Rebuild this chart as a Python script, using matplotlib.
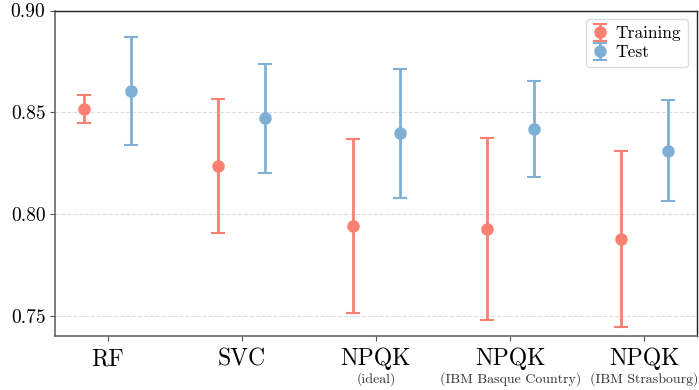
import numpy as np
import matplotlib
matplotlib.use("Agg")
import matplotlib.pyplot as plt
from matplotlib import transforms

plt.rcParams['font.family'] = 'serif'
plt.rcParams['font.serif'] = ['cmr10']
plt.rcParams['mathtext.fontset'] = 'cm'
plt.rcParams['axes.formatter.use_mathtext'] = True

models = ["RF", "SVC", "NPQK", "NPQK", "NPQK"]
subtitles = ["", "", "(ideal)", "(IBM Basque Country)", "(IBM Strasbourg)"]

train_mean = [0.8515, 0.8235, 0.7942, 0.7926, 0.7878]
train_err = [0.0068, 0.0330, 0.0428, 0.0447, 0.0434]
test_mean = [0.8603, 0.8470, 0.8397, 0.8418, 0.8312]
test_err = [0.0265, 0.0268, 0.0318, 0.0238, 0.0250]

train_color = '#FA8072'
test_color = '#7EB0D5'

x = np.arange(len(models))
offset = 0.175

fig, ax = plt.subplots(figsize=(6.99, 3.9), dpi=100)

ax.errorbar(x - offset, train_mean, yerr=train_err, fmt='o', color=train_color,
            ecolor=train_color, elinewidth=2, capsize=5, capthick=1.5,
            markersize=8, label='Training', zorder=3)
ax.errorbar(x + offset, test_mean, yerr=test_err, fmt='o', color=test_color,
            ecolor=test_color, elinewidth=2, capsize=5, capthick=1.5,
            markersize=8, label='Test', zorder=3)

ax.set_ylim(0.74, 0.90)
ax.set_yticks([0.75, 0.80, 0.85, 0.90])
ax.set_yticklabels(['0.75', '0.80', '0.85', '0.90'], fontsize=14)
ax.set_xticks(x)
ax.set_xticklabels(models, fontsize=17)
ax.tick_params(axis='x', pad=5, color='#555555')
ax.tick_params(axis='y', color='#555555')

# smaller second line under the NPQK labels
trans = transforms.blended_transform_factory(ax.transData, ax.transAxes)
for xi, sub in zip(x, subtitles):
    if sub:
        ax.text(xi, -0.112, sub, transform=trans, ha='center', va='top',
                fontsize=10, color='#333333')

ax.grid(axis='y', linestyle='--', color='#dddddd', linewidth=0.8, zorder=0)
ax.set_axisbelow(True)

for side in ['left', 'bottom']:
    ax.spines[side].set_color('#666666')
    ax.spines[side].set_linewidth(1.2)
for side in ['top', 'right']:
    ax.spines[side].set_color('#222222')
    ax.spines[side].set_linewidth(1.0)

leg = ax.legend(loc='upper right', fontsize=12.5, handlelength=0.8,
                handletextpad=0.5, borderpad=0.4, labelspacing=0.2,
                framealpha=1, edgecolor='#dddddd', fancybox=True)

plt.subplots_adjust(left=0.079, right=0.997, top=0.973, bottom=0.138)
plt.savefig('out.png', dpi=100)
